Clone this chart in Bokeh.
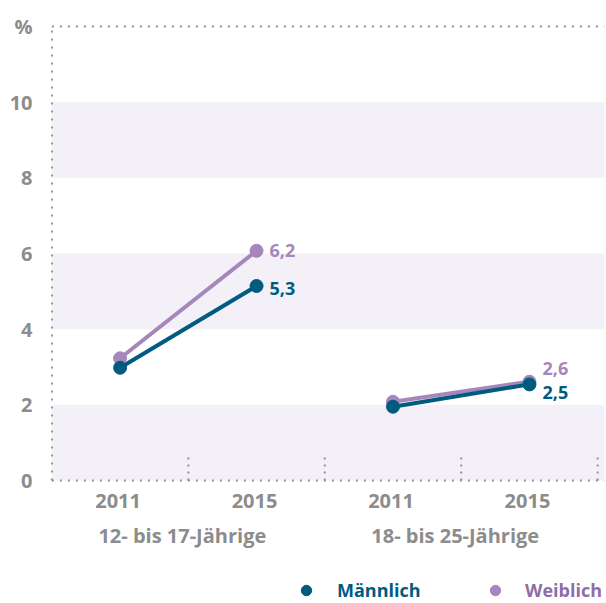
from bokeh.plotting import figure
from bokeh.models import (Range1d, FixedTicker, Legend, LegendItem,
                          ColumnDataSource, BoxAnnotation)
from bokeh.core.properties import value
from bokeh.embed import file_html
from bokeh.resources import INLINE

# ---- data ----
groups = ["12- bis 17-Jährige", "18- bis 25-Jährige"]
years = ["2011", "2015", "2011", "2015"]
maennlich = [2.98, 5.14, 1.95, 2.54]
weiblich = [3.23, 6.07, 2.08, 2.61]
maennlich_labels = ["", "5,3", "", "2,5"]
weiblich_labels = ["", "6,2", "", "2,6"]
y_ticks = [0, 2, 4, 6, 8, 10, 12]
y_tick_labels = ["0", "2", "4", "6", "8", "10", "%"]
band_bottoms = [0, 4, 8]
band_tops = [2, 6, 10]
y_max = 12

# ---- styles ----
TEAL = "#005b7f"
PURPLE = "#a587bb"
PURPLE_TXT = "#8e6ea6"
GREY = "#8c8c8c"
DOT = "#939393"
BAND = "#f3f0f8"
FONT = "Open Sans"

n = len(years)
xs = [i + 0.5 for i in range(n)]
x_end = n + 0.05

p = figure(width=606, height=603, x_range=Range1d(-0.01, x_end), y_range=Range1d(-3.25, y_max + 0.05),
           output_backend="svg", toolbar_location=None,
           min_border_left=50, min_border_right=2, min_border_top=24, min_border_bottom=0)
p.xaxis.visible = False
p.outline_line_color = None
p.xgrid.grid_line_color = None
p.ygrid.grid_line_color = None
p.background_fill_color = "white"

for b, t in zip(band_bottoms, band_tops):
    p.add_layout(BoxAnnotation(bottom=b, top=t, left=0, fill_color=BAND, fill_alpha=1,
                               line_color=None, level="underlay"))

# dotted frame lines
p.segment(x0=[0, 0, 0], y0=[0, y_max, 0], x1=[0, x_end, x_end], y1=[y_max, y_max, 0],
          line_color=DOT, line_width=2, line_dash="2 6")

# group dividers (short dotted ticks)
p.segment(x0=list(range(1, n + 1)), x1=list(range(1, n + 1)), y0=[0] * n, y1=[0.72] * n,
          line_color=DOT, line_width=2, line_dash="2 5")

# lines per group
for g in range(len(groups)):
    idx = [2 * g, 2 * g + 1]
    p.line([xs[i] for i in idx], [weiblich[i] for i in idx], line_color=PURPLE, line_width=4)
    p.line([xs[i] for i in idx], [maennlich[i] for i in idx], line_color=TEAL, line_width=4)

sc_w = p.scatter(xs, weiblich, size=13, fill_color=PURPLE, line_color=PURPLE)
sc_m = p.scatter(xs, maennlich, size=13, fill_color=TEAL, line_color=TEAL)

# value labels
w_src = ColumnDataSource(dict(x=xs, y=weiblich, t=weiblich_labels, dy=[0, 0, 0, -13]))
m_src = ColumnDataSource(dict(x=xs, y=maennlich, t=maennlich_labels, dy=[0, 3, 0, 8]))
for src, col in [(w_src, PURPLE), (m_src, TEAL)]:
    p.text(x="x", y="y", text="t", source=src, x_offset=13, y_offset="dy",
           text_font=value(FONT), text_font_style="bold", text_font_size="18px",
           text_color=col, text_baseline="middle", text_align="left")

# category labels (years) and group labels below the zero line
p.text(x=xs, y=[0] * n, text=years, y_offset=20, x_offset=-2,
       text_font=value(FONT), text_font_style="bold", text_font_size="20px",
       text_color=GREY, text_baseline="middle", text_align="center")
gx = [2 * g + 1 for g in range(len(groups))]
p.text(x=gx, y=[0] * len(groups), text=groups, y_offset=55, x_offset=-6,
       text_font=value(FONT), text_font_style="bold", text_font_size="20px",
       text_color=GREY, text_baseline="middle", text_align="center")

# y axis
ya = p.yaxis[0]
ya.ticker = FixedTicker(ticks=y_ticks)
ya.major_label_overrides = {t: l for t, l in zip(y_ticks, y_tick_labels)}
ya.axis_line_color = None
ya.major_tick_line_color = None
ya.minor_tick_line_color = None
ya.major_label_standoff = 12
ya.major_label_text_font = FONT
ya.major_label_text_font_style = "bold"
ya.major_label_text_font_size = "20px"
ya.major_label_text_color = GREY

# legends
def make_legend(label, rend, color, loc, standoff):
    return Legend(items=[LegendItem(label=label, renderers=[rend])], location=loc,
                  orientation="horizontal", border_line_color=None, background_fill_alpha=0,
                  padding=0, margin=0, glyph_width=26, glyph_height=26, label_height=26,
                  label_standoff=standoff, label_text_font=FONT, label_text_font_style="bold",
                  label_text_font_size="18px", label_text_color=color)

p.add_layout(make_legend("Männlich", sc_m, TEAL, (243, 0), 18), "center")
p.add_layout(make_legend("Weiblich", sc_w, PURPLE_TXT, (432, 0), 17), "center")

open("out.html", "w").write(file_html(p, INLINE))
